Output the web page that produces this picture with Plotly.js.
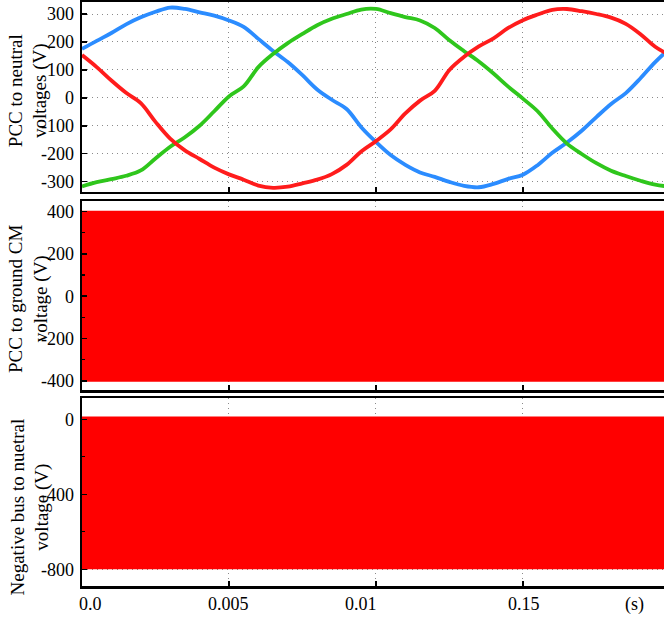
<!DOCTYPE html>
<html>
<head>
<meta charset="utf-8">
<script src="https://cdn.plot.ly/plotly-3.0.1.min.js"></script>
<style>
html,body{margin:0;padding:0;background:#fff;}
#chart{width:664px;height:618px;}
</style>
</head>
<body>
<div id="chart"></div>
<script>
// ---- data ----
const time = [0,0.0005,0.001,0.0015,0.002,0.0025,0.003,0.0035,0.004,0.0045,
              0.005,0.0055,0.006,0.0065,0.007,0.0075,0.008,0.0085,0.009,0.0095,
              0.01,0.0105,0.011,0.0115,0.012,0.0125,0.013,0.0135,0.014,0.0145,
              0.015,0.0155,0.016,0.0165,0.017,0.0175,0.018,0.0185,0.019,0.0195,0.02];
const phaseBlue  = [175,204,232,263,288,308,323,318,306,294,277,254,211,168,128,81,30,-7,-40,-105,
                    -158,-205,-240,-267,-283,-301,-315,-320,-308,-290,-275,-241,-197,-160,-118,-69,-22,17,70,128,178];
const phaseRed   = [153,110,62,18,-19,-86,-146,-188,-219,-250,-274,-293,-314,-322,-318,-306,-293,-273,-240,-192,
                    -155,-113,-56,-10,25,100,147,184,213,250,278,298,315,318,310,300,287,265,228,183,152];
const phaseGreen = [-317,-302,-291,-279,-260,-217,-175,-141,-100,-48,5,41,110,157,196,229,260,283,300,316,
                    318,303,289,277,250,206,167,130,87,40,-3,-48,-110,-164,-201,-234,-261,-280,-297,-311,-318];

// switching waveforms: envelope levels of the PWM band
const pwmTime  = [0, 0.02];
const cmUpper  = [400, 400];
const cmLower  = [-400, -400];
const negUpper = [10, 10];
const negLower = [-795, -795];

// tick labels
const xTickVals = [0.005, 0.01, 0.015];
const xLabelText = ['0.0', '0.005', '0.01', '0.15', '(s)'];
const xLabelPos  = [0.00028, 0.00497, 0.00948, 0.01504, 0.01878];
const y1Ticks = [300, 200, 100, 0, -100, -200, -300];
const y1Text  = ['300', '200', '100', '0', '-100', '-200', '-300'];
const y2Ticks = [400, 200, 0, -200, -400];
const y2Text  = ['400', '200', '0', '-200', '-400'];
const y2Minor = [300, 100, -100, -300];
const y3Ticks = [0, -400, -800];
const y3Text  = ['0', '-400', '-800'];
const y3Minor = [-200, -600];
const yTitles = ['PCC to neutral<br>voltages (V)', 'PCC to ground CM<br>voltage (V)', 'Negative bus to nuetral<br>voltage (V)'];

// ---- chart ----
const SERIF = 'Liberation Serif, Times New Roman, serif';
const traces = [
  {x: time, y: phaseBlue,  mode: 'lines', line: {color: '#2b8cff', width: 3.8, shape: 'spline', smoothing: 1}, xaxis: 'x', yaxis: 'y'},
  {x: time, y: phaseGreen, mode: 'lines', line: {color: '#2fc61c', width: 3.8, shape: 'spline', smoothing: 1}, xaxis: 'x', yaxis: 'y'},
  {x: time, y: phaseRed,   mode: 'lines', line: {color: '#ff1c1c', width: 3.8, shape: 'spline', smoothing: 1}, xaxis: 'x', yaxis: 'y'},
  {x: pwmTime, y: cmLower, mode: 'lines', line: {color: '#ff0000', width: 2}, xaxis: 'x2', yaxis: 'y2'},
  {x: pwmTime, y: cmUpper, mode: 'lines', fill: 'tonexty', fillcolor: '#ff0000', line: {color: '#ff0000', width: 2}, xaxis: 'x2', yaxis: 'y2'},
  {x: pwmTime, y: negLower, mode: 'lines', line: {color: '#ff0000', width: 2}, xaxis: 'x3', yaxis: 'y3'},
  {x: pwmTime, y: negUpper, mode: 'lines', fill: 'tonexty', fillcolor: '#ff0000', line: {color: '#ff0000', width: 2}, xaxis: 'x3', yaxis: 'y3'}
];

const GRID = {showgrid: true, gridcolor: '#8a8a8a', griddash: '1px,4px', gridwidth: 1};
function xAxis(anchor) {
  return Object.assign({
    anchor: anchor, range: [0, 0.0198], showline: true, linecolor: '#000', linewidth: 2.5, mirror: true,
    ticks: 'inside', ticklen: 5, tickwidth: 2, tickcolor: '#000', tickvals: xTickVals,
    showticklabels: false, zeroline: false
  }, GRID);
}
function yAxis(anchor, domain, range, vals, text, minor) {
  const a = Object.assign({
    anchor: anchor, domain: domain, range: range, showline: true, linecolor: '#000', linewidth: 2.5, mirror: false,
    ticks: 'inside', ticklen: 5, tickwidth: 1.5, tickcolor: '#000', tickvals: vals, ticktext: text,
    tickfont: {family: SERIF, size: 18, color: '#000'}, ticklabelstandoff: 2, zeroline: false
  }, GRID);
  if (minor) a.minor = {tickvals: minor, ticks: 'inside', ticklen: 3, tickwidth: 1.2, tickcolor: '#000', showgrid: false};
  return a;
}

const annotations = [];
xLabelText.forEach((t, i) => annotations.push({
  text: t, x: xLabelPos[i], xref: 'x3', y: -0.031, yref: 'paper', xanchor: 'center', yanchor: 'middle',
  showarrow: false, font: {family: SERIF, size: 18, color: '#000'}
}));
const titlePos = [[-0.0928, 0.849], [-0.0928, 0.4914], [-0.0885, 0.1353]];
yTitles.forEach((t, i) => annotations.push({
  text: t, x: titlePos[i][0], y: titlePos[i][1], xref: 'paper', yref: 'paper', xanchor: 'center', yanchor: 'middle',
  textangle: -90, showarrow: false, font: {family: SERIF, size: 19, color: '#000'}
}));

const layout = {
  width: 664, height: 618,
  margin: {l: 82, r: 0, t: 2, b: 32},
  paper_bgcolor: '#fff', plot_bgcolor: '#fff',
  showlegend: false,
  xaxis: xAxis('y'), xaxis2: xAxis('y2'), xaxis3: xAxis('y3'),
  yaxis:  yAxis('x',  [0.6747, 1],      [-337, 343], y1Ticks, y1Text, null),
  yaxis2: yAxis('x2', [0.3348, 0.6584], [-446, 448], y2Ticks, y2Text, y2Minor),
  yaxis3: yAxis('x3', [0, 0.3214],      [-889, 112], y3Ticks, y3Text, y3Minor),
  annotations: annotations
};

Plotly.newPlot('chart', traces, layout, {staticPlot: true, displayModeBar: false});
</script>
</body>
</html>
